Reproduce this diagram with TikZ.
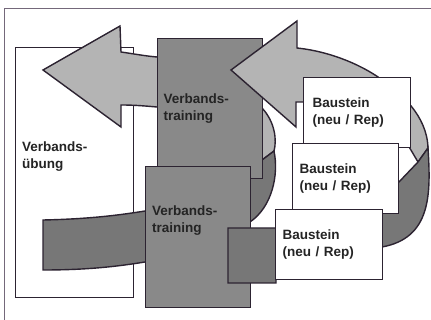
\documentclass[tikz,border=0pt]{standalone}
\usepackage{fontspec}
\setmainfont{Liberation Sans}
\definecolor{framecol}{HTML}{74687A}
\definecolor{edgecol}{HTML}{2C2331}
\definecolor{boxgray}{HTML}{898989}
\definecolor{arrowgray}{HTML}{B4B4B4}
\definecolor{ribbongray}{HTML}{777777}
\definecolor{textcol}{HTML}{242424}

\begin{document}
\begin{tikzpicture}[x=1pt, y=-1pt,
    shapeline/.style={draw=edgecol, line width=1.4pt, line join=miter},
    box/.style={shapeline, rectangle, anchor=north west, inner sep=0pt},
    labeltext/.style={font=\fontsize{13.5}{16.5}\selectfont\bfseries, text=textcol, align=left},
    boxtext/.style={box, labeltext, inner xsep=7pt}]
    \useasboundingbox (0,0) rectangle (431,320);
    \draw[framecol, line width=0.8pt] (4,320) -- (4,8) -- (431,8);

    \node[box, fill=white, minimum width=118pt, minimum height=250pt] (vu) at (15,47) {};
    \node[labeltext, anchor=north west, inner sep=0pt] (vuText) at (22,142) {Verbands-\\übung};

    \filldraw[shapeline, fill=arrowgray] (43,70) -- (120,26) -- (121,52)
        .. controls (135,54) and (145,56) .. (157,57)
        .. controls (215,62) and (250,80) .. (262,108)
        .. controls (275,122) and (277,140) .. (274,151)
        -- (262,160) -- (210,108) -- (157,107)
        .. controls (145,106) and (135,105) .. (121,105) -- (121,127) -- cycle;

    \filldraw[shapeline, fill=ribbongray] (43,220)
        .. controls (90,219) and (120,215) .. (145,211)
        -- (240,190) -- (262,160) -- (274,151)
        .. controls (279,175) and (272,207) .. (250,222)
        -- (145,262) .. controls (120,266) and (90,270) .. (43,270) -- cycle;

    \node[boxtext, fill=boxgray, inner xsep=6pt, text width=93pt, minimum height=140pt] (vt1) at (157,38) {Verbands-\\training};
    \node[box, fill=boxgray, minimum width=105pt, minimum height=141pt] (vt2) at (145,166) {};
    \node[labeltext, anchor=north west, inner sep=0pt] (vt2Text) at (152,206) {Verbands-\\training};

    \filldraw[shapeline, fill=arrowgray] (231,70) -- (297,21) -- (297,48)
        .. controls (335,52) and (365,68) .. (378,77)
        .. controls (400,92) and (427,115) .. (428,148)
        -- (418,162) -- (405,140) -- (303,102) -- (296,102) -- (296,127) -- cycle;

    \filldraw[shapeline, fill=ribbongray] (418,162) -- (428,148)
        .. controls (431,195) and (431,238) .. (382,247)
        -- (360,262) -- (276,274) -- (276,283) -- (228,283) -- (228,228)
        -- (300,228) -- (398,183) -- cycle;

    \node[boxtext, fill=white, inner xsep=9pt, text width=89pt, minimum height=70pt] (bs1) at (303,77) {Baustein\\(neu / Rep)};
    \node[boxtext, fill=white, text width=92pt, minimum height=70pt] (bs2) at (292,143) {Baustein\\(neu / Rep)};
    \node[boxtext, fill=white, text width=93pt, minimum height=70pt] (bs3) at (275,209) {Baustein\\(neu / Rep)};
\end{tikzpicture}
\end{document}
